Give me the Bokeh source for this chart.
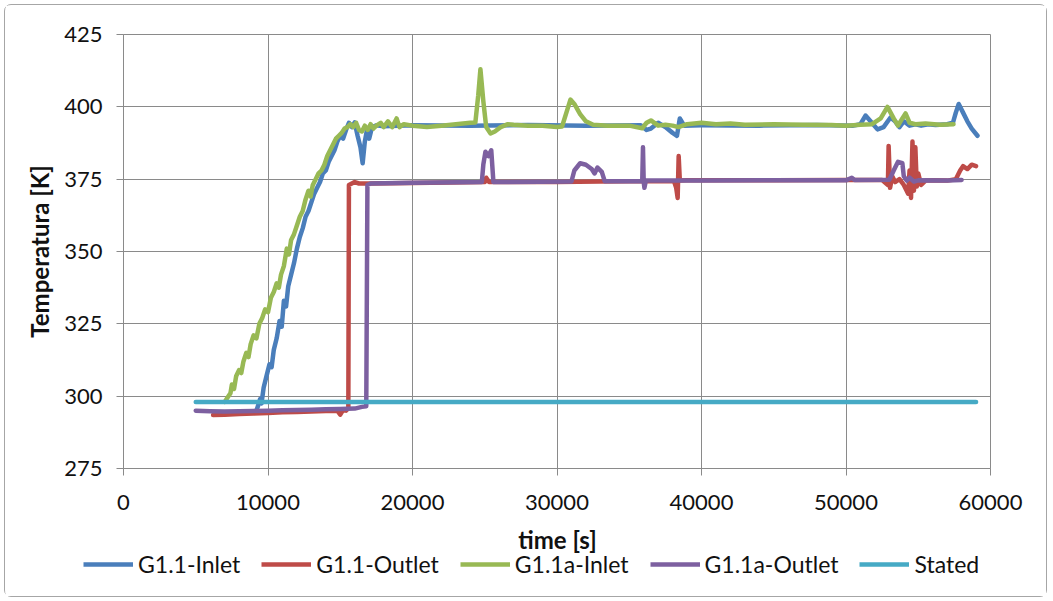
from bokeh.plotting import figure
from bokeh.layouts import column, row
from bokeh.models import Legend, LegendItem, FixedTicker, Range1d, Label
from bokeh.embed import file_html
from bokeh.resources import INLINE

# ---- data: time [s] and temperature [K] per series ----
inlet_t = [9200, 9300, 9450, 9550, 9700, 9900, 10100, 10250, 10400, 10600, 10800, 10950,
           11100, 11250, 11400, 11600, 11800, 12000, 12200, 12400, 12600, 12800, 13000,
           13200, 13400, 13600, 13800, 14000, 14200, 14400, 14600, 14800, 15000, 15200,
           15400, 15600, 15800, 16000, 16200, 16400, 16550, 16700, 16850, 17000, 17200,
           17500, 18000, 20000, 24000, 28000, 32000, 35800, 36200, 36500, 37000, 37500,
           38000, 38300, 38500, 38800, 40000, 44000, 48000, 50500, 51000, 51350, 51700,
           52180, 52600, 53080, 53400, 53700, 54000, 54400, 54800, 55200, 55700, 56200,
           57000, 57400, 57600, 57800, 58100, 58400, 58700, 59100]
inlet_T = [295.0, 296.5, 299.0, 297.5, 303.0, 307.0, 311.0, 310.0, 316.0, 320.0, 326.0, 324.0,
           333.0, 331.0, 338.0, 342.0, 346.0, 351.0, 355.0, 358.0, 362.0, 364.0, 367.0,
           370.0, 372.0, 374.0, 377.0, 378.0, 381.0, 383.0, 385.0, 388.0, 390.0, 389.0,
           392.0, 394.5, 393.0, 394.6, 390.0, 386.0, 380.5, 388.0, 392.0, 389.0, 393.0,
           393.6, 393.3, 393.6, 393.5, 393.7, 393.5, 393.6, 392.0, 392.5, 394.5, 393.0,
           391.0, 390.0, 396.0, 393.5, 393.6, 393.5, 393.7, 393.5, 394.0, 397.0, 395.0,
           392.2, 393.0, 396.3, 395.0, 393.0, 395.0, 393.5, 394.0, 393.5, 394.0, 393.7,
           394.0, 394.5, 398.0, 401.0, 398.0, 395.0, 392.5, 390.0]

outlet_t = [6200, 7000, 8000, 9000, 10000, 11000, 12000, 13000, 14000, 14800, 15000, 15200,
            15400, 15500, 15560, 15600, 15800, 16000, 16300, 17000, 20000, 25000, 25100,
            25300, 30000, 33000, 35000, 38100, 38250, 38350, 38420, 38500, 39000, 45000,
            50000, 52500, 52900, 52950, 53050, 53200, 53400, 53700, 54000, 54300, 54400,
            54500, 54600, 54700, 54800, 54900, 55000, 55200, 55500, 56000, 57000, 57600,
            57900, 58100, 58400, 58700, 59000]
outlet_T = [293.5, 293.6, 293.8, 294.0, 294.2, 294.4, 294.5, 294.7, 294.9, 295.0, 293.6, 295.3,
            295.0, 295.5, 296.0, 373.0, 373.5, 374.0, 373.5, 373.5, 373.7, 374.0, 375.5,
            374.0, 374.0, 374.2, 374.3, 374.3, 372.0, 368.5, 383.0, 374.5, 374.6, 374.6,
            374.7, 374.7, 373.0, 386.5, 372.0, 376.0, 374.0, 375.0, 373.0, 370.0, 378.0,
            368.5, 388.0, 371.0, 386.0, 372.5, 377.0, 373.0, 374.5, 374.6, 374.5, 375.0,
            378.0, 379.5, 378.5, 380.0, 379.5]

inlet_a_t = [7000, 7200, 7400, 7500, 7650, 7800, 8000, 8150, 8300, 8500, 8650, 8800, 9000,
             9200, 9400, 9600, 9800, 10000, 10200, 10400, 10600, 10750, 10900, 11100, 11300,
             11450, 11600, 11800, 12000, 12200, 12400, 12600, 12800, 12950, 13100, 13300,
             13500, 13700, 13900, 14100, 14300, 14500, 14700, 14900, 15100, 15300, 15500,
             15700, 15900, 16100, 16300, 16500, 16700, 16900, 17100, 17300, 17500, 17800,
             18000, 18300, 18600, 18900, 19100, 19400, 20000, 21000, 22000, 23000, 24000,
             24350, 24550, 24700, 24900, 25100, 25400, 25700, 26100, 26600, 27000, 28000,
             29000, 30000, 30350, 30650, 30930, 31200, 31600, 32000, 32500, 33500, 35000,
             35900, 36200, 36500, 37000, 37500, 38000, 38400, 39000, 40000, 41000, 42000,
             43000, 45000, 47000, 49000, 50000, 51000, 51800, 52400, 52870, 53300, 53600,
             53900, 54120, 54400, 54800, 55500, 56500, 57440]
inlet_a_T = [298.0, 299.5, 301.0, 304.0, 302.5, 307.0, 309.0, 308.0, 312.0, 315.0, 313.5, 318.0,
             321.0, 320.0, 325.0, 327.0, 330.0, 329.0, 334.0, 336.0, 339.0, 337.5, 342.0,
             345.0, 351.0, 349.0, 354.0, 356.0, 359.0, 362.0, 364.0, 368.0, 371.0, 369.0,
             373.0, 375.0, 377.0, 378.0, 380.0, 383.0, 385.0, 387.0, 389.0, 390.0, 391.0,
             392.5, 393.0, 394.0, 393.0, 394.5, 392.0, 391.5, 393.5, 392.0, 394.0, 392.5,
             393.5, 394.5, 393.0, 395.0, 393.0, 396.0, 393.0, 394.0, 393.5, 393.0, 393.5,
             394.0, 394.5, 394.6, 404.0, 413.0, 402.0, 393.0, 390.8, 391.5, 393.0, 394.0,
             393.8, 393.5, 393.5, 393.0, 393.2, 398.0, 402.5, 401.0, 397.5, 395.0, 393.8,
             393.5, 393.5, 392.6, 394.5, 395.3, 393.5, 393.8, 393.5, 393.0, 394.0, 394.5,
             394.0, 394.2, 393.8, 394.0, 393.8, 393.7, 393.5, 393.8, 394.0, 396.0, 400.0,
             396.0, 393.5, 396.0, 397.7, 394.5, 394.0, 394.2, 393.8, 394.0]

outlet_a_t = [5000, 6000, 7000, 8000, 9000, 10000, 11000, 12000, 13000, 14000, 15000, 16000,
              16500, 16800, 16880, 17100, 20000, 24800, 24900, 25050, 25250, 25450, 25600,
              31000, 31200, 31600, 32000, 32400, 32600, 32800, 33100, 33300, 35900, 35950,
              36000, 36050, 36150, 40000, 45000, 50000, 50400, 50600, 53000, 53300, 53600,
              53900, 54000, 54200, 54400, 54700, 55000, 57000, 58000]
outlet_a_T = [295.0, 294.8, 294.7, 294.8, 294.9, 295.0, 295.1, 295.2, 295.3, 295.5, 295.6, 295.7,
              296.3, 296.5, 373.0, 373.5, 373.8, 374.0, 380.0, 384.5, 383.0, 385.0, 374.0,
              374.2, 378.0, 380.5, 380.0, 378.5, 377.0, 379.0, 377.5, 374.3, 374.4, 386.0,
              374.0, 372.0, 374.5, 374.5, 374.6, 374.6, 375.5, 374.7, 374.8, 378.0, 381.0,
              380.5, 376.0, 374.5, 375.5, 374.2, 374.6, 374.5, 374.7]

stated_t = [5000, 59000]
stated_T = [298.0, 298.0]

x_ticks = [0, 10000, 20000, 30000, 40000, 50000, 60000]
y_ticks = [275, 300, 325, 350, 375, 400, 425]

series = [
    ("G1.1-Inlet", inlet_t, inlet_T, "#4a7ebb"),
    ("G1.1-Outlet", outlet_t, outlet_T, "#be4b48"),
    ("G1.1a-Inlet", inlet_a_t, inlet_a_T, "#98b954"),
    ("G1.1a-Outlet", outlet_a_t, outlet_a_T, "#7d60a0"),
    ("Stated", stated_t, stated_T, "#46aac5"),
]

FONT = "Lato"
GRID = "#8a8a8a"
TEXT = "#111111"
W = 1041

# ---- main chart ----
p = figure(width=W, height=520, output_backend="svg", toolbar_location=None,
           x_range=Range1d(0, 60000), y_range=Range1d(275, 425),
           min_border_left=118, min_border_right=56, min_border_top=29, min_border_bottom=57)
p.outline_line_color = GRID
p.border_fill_color = "white"

for ax in (p.xaxis[0], p.yaxis[0]):
    ax.axis_line_color = GRID
    ax.major_tick_line_color = GRID
    ax.minor_tick_line_color = None
    ax.major_tick_in = 0
    ax.major_tick_out = 7
    ax.major_label_text_font = FONT
    ax.major_label_text_font_size = "22px"
    ax.major_label_text_color = TEXT
    ax.axis_label_text_font = FONT
    ax.axis_label_text_font_size = "24px"
    ax.axis_label_text_font_style = "bold"
    ax.axis_label_text_color = TEXT

p.xaxis.ticker = FixedTicker(ticks=x_ticks)
p.yaxis.ticker = FixedTicker(ticks=y_ticks)
p.yaxis.axis_label = "Temperatura [K]"
p.xaxis.major_label_standoff = 19
p.yaxis.major_label_standoff = 14
p.yaxis.axis_label_standoff = 7

p.xgrid.ticker = FixedTicker(ticks=x_ticks)
p.ygrid.ticker = FixedTicker(ticks=y_ticks)
for g in (p.xgrid[0], p.ygrid[0]):
    g.grid_line_color = GRID
    g.grid_line_width = 1

for name, t, T, color in series:
    p.line(t, T, line_color=color, line_width=4.5, line_join="round", line_cap="round")

# ---- strip under the chart: x-axis title and legend ----
# ranges in screen pixels of the strip; the series lines drawn here fall outside
# the visible window and only feed the legend swatches
q = figure(width=W, height=71, output_backend="svg", toolbar_location=None,
           x_range=Range1d(0, W), y_range=Range1d(0, 71),
           x_axis_type=None, y_axis_type=None, min_border=0)
q.outline_line_color = None
q.grid.visible = False
q.border_fill_color = "white"

q.add_layout(Label(x=552, y=57, text="time [s]", text_align="center", text_baseline="middle",
                   text_font=FONT, text_font_size="24px", text_font_style="bold",
                   text_color=TEXT))

items = []
for name, t, T, color in series:
    r = q.line(t, T, line_color=color, line_width=4.5)
    items.append(LegendItem(label=name, renderers=[r]))

legend = Legend(items=items, orientation="horizontal", location=(78, 18),
                glyph_width=50, glyph_height=20, label_height=20, label_standoff=5,
                spacing=21, padding=0, margin=0, border_line_color=None,
                background_fill_alpha=0, label_text_font=FONT,
                label_text_font_size="23px", label_text_color=TEXT)
q.add_layout(legend)

layout = column(p, row(q), spacing=0,
                styles={"border": "1px solid #a6a6a6", "border-radius": "7px",
                        "margin-left": "4px", "margin-top": "4px"})

open("out.html", "w").write(file_html(layout, INLINE))
